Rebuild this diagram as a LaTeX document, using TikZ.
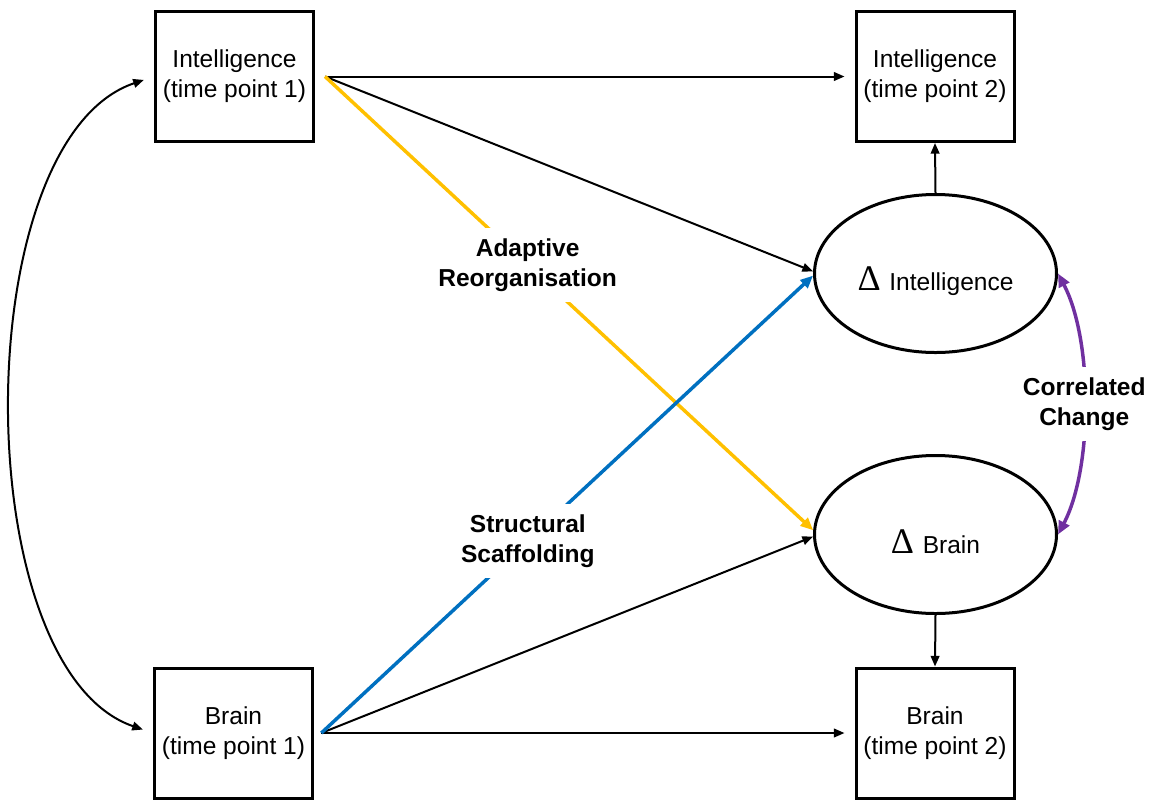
\documentclass[tikz,border=0pt]{standalone}
\usepackage{fontspec}
\setmainfont{Liberation Sans}
\newfontfamily\deltaserif{Liberation Serif}
\usetikzlibrary{arrows.meta,shapes.geometric}

\definecolor{adaptyellow}{HTML}{FFC000}
\definecolor{scaffblue}{HTML}{0070C0}
\definecolor{corrpurple}{HTML}{7030A0}

% the change symbol in front of the latent variable names
\newcommand\deltasym{{\fontsize{27pt}{27pt}\deltaserif Δ}\hspace{6.5pt}}
\newcommand\lowered[1]{\raisebox{-5.6pt}[\height][\depth]{#1}}

\begin{document}
\begin{tikzpicture}[
  x=0.75pt, y=-0.75pt,
  txt/.style={font=\fontsize{18.4pt}{22.5pt}\selectfont},
  obsbox/.style={txt, draw, line width=2.25pt, minimum width=118.5pt,
    minimum height=97.5pt, inner sep=0pt, align=center},
  latent/.style={txt, draw, ellipse, line width=2.25pt, minimum width=181.5pt,
    minimum height=118.5pt, inner sep=0pt},
  blackarrow/.style={line width=1.5pt, -{Triangle[length=8pt,width=6.5pt]}},
  colarrow/.style={line width=2.6pt, -{Triangle[length=9.5pt,width=8pt]}},
  pathlabel/.style={font=\fontsize{18.4pt}{22.5pt}\selectfont\bfseries,
    text=black, fill=white, align=center, inner xsep=2pt, inner ysep=8pt},
]
\useasboundingbox (0,0) rectangle (1154,801);

% observed variables
\node[obsbox] (int1) at (234.5,76.5) {Intelligence\\(time point 1)};
\node[obsbox] (int2) at (935,76.5)   {Intelligence\\(time point 2)};
\node[obsbox] (br1)  at (233.5,733)  {Brain\\(time point 1)};
\node[obsbox] (br2)  at (935,733)    {Brain\\(time point 2)};

% latent change scores
\node[latent] (dint) at (935.5,273.5) {\lowered{\deltasym Intelligence}};
\node[latent] (dbr)  at (935.5,534.5) {\lowered{\deltasym Brain}};

% autoregressive paths
\draw[blackarrow] ([xshift=7.5pt]int1.east) -- ([xshift=-7.5pt]int2.west);
\draw[blackarrow] ([xshift=5.5pt]br1.east) -- ([xshift=-7.5pt]br2.west);

% self-feedback paths
\draw[blackarrow] ([xshift=7.5pt]int1.east) -- (dint.179);
\draw[blackarrow] ([xshift=5.5pt]br1.east) -- (dbr.181.5);

% cross-lagged coupling
\draw[colarrow, adaptyellow] ([xshift=7.5pt]int1.east) -- (dbr.178.5)
  node[pathlabel, pos=0.415] {Adaptive\\Reorganisation};
\draw[colarrow, scaffblue] ([xshift=5.5pt]br1.east) -- (dint.181)
  node[pathlabel, pos=0.42] {Structural\\Scaffolding};

% change scores load on time point 2
\draw[blackarrow] (dint.north) -- (int2.south);
\draw[blackarrow] (dbr.south) -- (br2.north);

% covariance at time point 1
\draw[line width=1.5pt, {Triangle[length=8pt,width=6.5pt]}-{Triangle[length=8pt,width=6.5pt]},
      shorten <=8pt, shorten >=8pt]
  (int1.west) .. controls (-34,140) and (-34,669) .. (br1.west);

% correlated change
\draw[line width=2.6pt, corrpurple,
      {Triangle[length=10pt,width=8.5pt]}-{Triangle[length=10pt,width=8.5pt]}]
  (dint.east) .. controls (1093,340) and (1093,468) .. (dbr.east)
  node[pathlabel, pos=0.5] {Correlated\\Change};
\end{tikzpicture}
\end{document}
